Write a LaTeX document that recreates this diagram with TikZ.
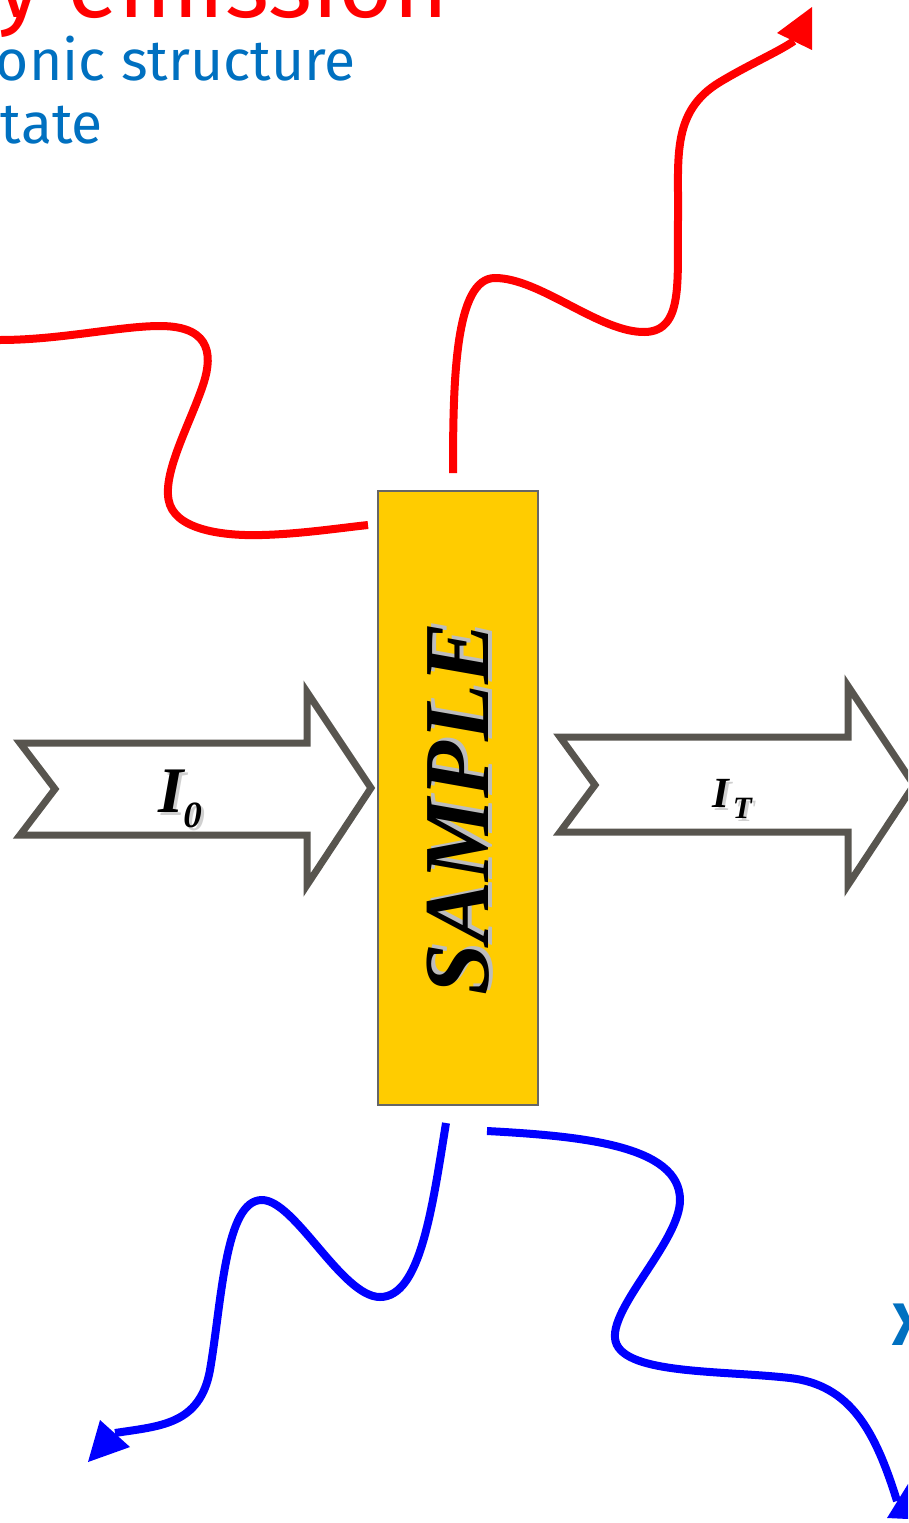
\documentclass[tikz,border=0pt]{standalone}
\usepackage{fontspec}
\setmainfont{Fira Sans}
\newfontfamily\tnr{Liberation Serif}
\definecolor{samplefill}{HTML}{FFCC00}
\definecolor{beamgray}{HTML}{58554F}
\definecolor{textblue}{HTML}{0070C0}
\definecolor{shadowgray}{HTML}{BDBDBD}
\begin{document}
\begin{tikzpicture}[x=1pt,y=-1pt,
  redwave/.style={draw=red, line width=8pt},
  bluewave/.style={draw=blue, line width=8pt},
  redhead/.style={fill=red},
  bluehead/.style={fill=blue},
  beam/.style={draw=beamgray, line width=7pt, fill=white, line join=miter, miter limit=10},
  samplebox/.style={draw=black!60, line width=1.5pt, fill=samplefill, minimum width=160pt, minimum height=614pt, inner sep=0pt},
  bigserif/.style={font=\tnr\bfseries\itshape\fontsize{93}{93}\selectfont, inner sep=0pt},
  lbl/.style={inner sep=0pt, anchor=base west},
  toptext/.style={inner sep=0pt, anchor=base east, text=textblue, font=\fontsize{57}{57}\selectfont}
]
\useasboundingbox (0,0) rectangle (908,1523);
\clip (0,0) rectangle (908,1523);

% beams
\draw[beam] (20,743) -- (307,743) -- (307,692) -- (371,788) -- (307,885) -- (307,835) -- (20,835) -- (55,789) -- cycle;
\draw[beam] (560,737) -- (848,737) -- (848,686) -- (914,785) -- (848,885) -- (848,832) -- (560,832) -- (595,785) -- cycle;

% sample
\node[samplebox] (sample) at (458,798) {};
\node[bigserif, rotate=90, text=shadowgray] (sampleshadow) at (462,806) {SAMPLE};
\node[bigserif, rotate=90] (samplelabel) at (458,809) {SAMPLE};

% beam labels
\node[lbl, text=shadowgray, opacity=0.7, font=\tnr\bfseries\itshape\fontsize{65}{65}\selectfont] (i0s) at (161,815) {I\raisebox{-15pt}{\fontsize{37}{37}\selectfont 0}};
\node[lbl, font=\tnr\bfseries\itshape\fontsize{65}{65}\selectfont] (i0) at (158,812) {I\raisebox{-15pt}{\fontsize{37}{37}\selectfont 0}};
\node[lbl, text=shadowgray, opacity=0.7, font=\tnr\bfseries\itshape\fontsize{43}{43}\selectfont] (its) at (715,810) {I\kern4pt\raisebox{-11pt}{\fontsize{31}{31}\selectfont T}};
\node[lbl, font=\tnr\bfseries\itshape\fontsize{43}{43}\selectfont] (it) at (712,807) {I\kern4pt\raisebox{-11pt}{\fontsize{31}{31}\selectfont T}};

% coordinates for wave ends
\coordinate (r1a) at (0,340);
\coordinate (r1b) at (368,525);
\coordinate (r2a) at (453,473);
\coordinate (r2b) at (794,41);
\coordinate (b1a) at (446,1123);
\coordinate (b1b) at (115,1433);
\coordinate (b2a) at (487,1131);
\coordinate (b2b) at (897,1501);

% red waves
\draw[redwave] (r1a) .. controls (60,340) and (120,326) .. (160,326)
  .. controls (215,326) and (212,360) .. (202,388)
  .. controls (188,428) and (160,478) .. (170,505)
  .. controls (180,532) and (230,536) .. (262,535)
  .. controls (300,534) and (340,528) .. (r1b);
\draw[redwave] (r2a) .. controls (453,380) and (455,278) .. (495,278)
  .. controls (540,278) and (600,333) .. (645,332)
  .. controls (684,331) and (677,280) .. (678,220)
  .. controls (679,160) and (670,112) .. (720,82)
  .. controls (750,64) and (778,52) .. (r2b);
\fill[redhead] (812,7) -- (777,33) -- (812,50) -- cycle;

% blue waves
\draw[bluewave] (b1a) .. controls (432,1210) and (420,1297) .. (380,1297)
  .. controls (342,1297) and (295,1200) .. (262,1200)
  .. controls (225,1200) and (222,1300) .. (210,1370)
  .. controls (200,1425) and (160,1426) .. (b1b);
\fill[bluehead] (88,1462) -- (100,1420) -- (130,1447) -- cycle;
\draw[bluewave] (b2a) .. controls (580,1136) and (680,1145) .. (680,1200)
  .. controls (680,1240) and (612,1305) .. (615,1338)
  .. controls (618,1375) and (720,1370) .. (790,1378)
  .. controls (850,1385) and (875,1430) .. (b2b);
\fill[bluehead] (887,1518) -- (908,1484) -- (930,1520) -- cycle;

% texts
\node[inner sep=0pt, anchor=base east, text=red, font=\fontsize{94}{94}\selectfont] (title) at (449,17) {y emission};
\node[toptext] (line1) at (356,80) {onic structure};
\node[toptext] (line2) at (103,143) {tate};
\node[inner sep=0pt, anchor=base west, text=textblue, font=\bfseries\fontsize{60}{60}\selectfont] (xlabel) at (892,1345) {X};
\end{tikzpicture}
\end{document}
